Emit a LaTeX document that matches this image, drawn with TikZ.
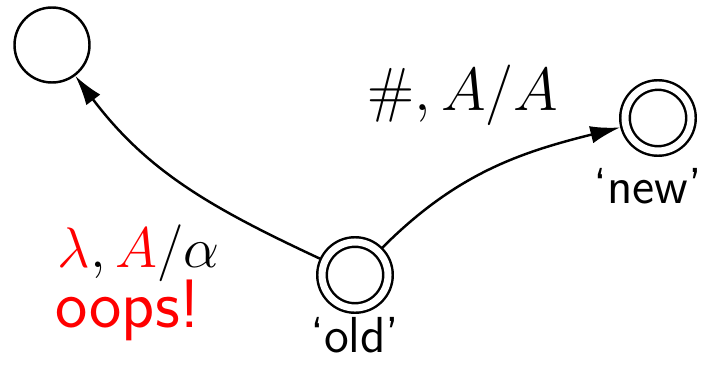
\documentclass[tikz,border=0pt]{standalone}
\usepackage{fontspec}
\usetikzlibrary{arrows.meta}

\tikzset{
  state/.style={circle, draw, line width=0.7pt, inner sep=0pt, minimum size=0.75cm},
  accepting/.style={circle, draw, line width=0.7pt, inner sep=0pt, minimum size=0.66cm,
    double, double distance=2pt, outer sep=1.7pt},
  trans/.style={line width=0.7pt, -{Latex[length=8.5pt,width=5pt]}},
  lbl/.style={font=\sffamily\fontsize{14.4}{17}\selectfont, anchor=base},
  edgelbl/.style={font=\fontsize{17.28}{20}\selectfont, anchor=base west, inner sep=0pt}
}

\begin{document}
\begin{tikzpicture}[line join=round, line cap=round]
  \useasboundingbox (0,0) rectangle (7.13,3.66);

  \node[state] (dead) at (0.52,3.21) {};
  \node[accepting] (old) at (3.55,0.91) {};
  \node[accepting] (new) at (6.58,2.48) {};

  \node[lbl] (oldlbl) at (3.55,0.14) {`old'};
  \node[lbl] (newlbl) at (6.48,1.63) {`new'};

  \draw[trans] (old) to[out=155, in=-53] (dead);
  \draw[trans] (old) to[out=45, in=194] (new);

  \node[edgelbl] (hashlbl) at (3.67,2.56) {$\#, A/A$};
  \node[edgelbl, scale=0.94] (lamlbl) at (0.57,0.99) {${\color{red}\lambda}, {\color{red}A}/\alpha$};
  \node[edgelbl, text=red, font=\sffamily\fontsize{19.5}{22}\selectfont] (oops) at (0.55,0.39) {oops!};
\end{tikzpicture}
\end{document}
